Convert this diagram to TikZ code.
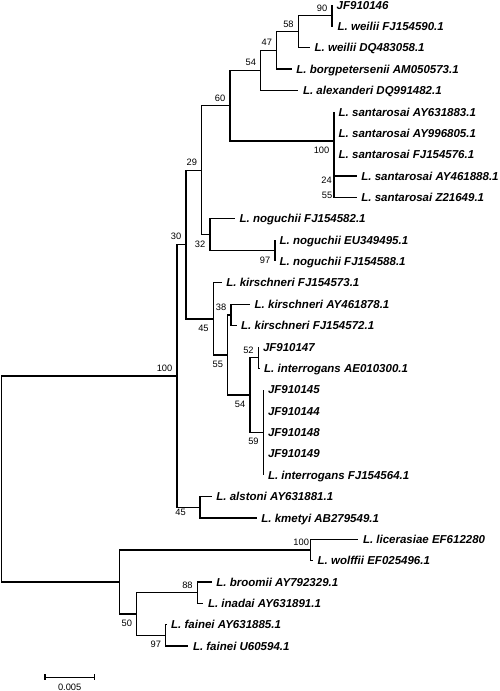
\documentclass[tikz,border=0pt]{standalone}
\usepackage{fontspec}
\setmainfont{Liberation Sans}
\begin{document}
\begin{tikzpicture}[x=1pt,y=-1pt,
  br/.style={line width=1.3pt, line join=miter},
  leaf/.style={anchor=base west, inner sep=0pt, xshift=4.5pt, yshift=-4.1pt,
    font=\fontsize{11.5}{13}\selectfont\bfseries\itshape},
  bsa/.style={anchor=base east, inner sep=0pt, xshift=-4.5pt, yshift=4.6pt,
    font=\fontsize{9.3}{10}\selectfont},
  bsb/.style={anchor=base east, inner sep=0pt, xshift=-4.5pt, yshift=-12.4pt,
    font=\fontsize{9.3}{10}\selectfont},
  bsf/.style={anchor=base east, inner sep=0pt, font=\fontsize{9.3}{10}\selectfont}]
\useasboundingbox (0,0) rectangle (500,691);
% internal nodes
\coordinate (root) at (1.5,479);
\coordinate (U100) at (177,375.9);
\coordinate (L) at (119.3,582);
\coordinate (n30) at (186,244.5);
\coordinate (n45a) at (200,507.2);
\coordinate (n29) at (201.7,170.2);
\coordinate (n45k) at (213.3,318.9);
\coordinate (n60) at (230,105.7);
\coordinate (n32) at (210,234.7);
\coordinate (n54) at (260.7,70.45);
\coordinate (nS) at (334,141);
\coordinate (n47) at (276.7,50.4);
\coordinate (n58) at (298.3,31.7);
\coordinate (n90) at (332,15.7);
\coordinate (n97) at (275,250.75);
\coordinate (n55) at (227.7,354.95);
\coordinate (n38) at (231,314.9);
\coordinate (n54b) at (250,395);
\coordinate (n52) at (258.3,357.6);
\coordinate (n59) at (263.3,432.4);
\coordinate (nLW) at (310.7,549.9);
\coordinate (n50) at (136.7,614);
\coordinate (n88) at (197.3,592.65);
\coordinate (n97b) at (165.7,635.4);
% tips
\coordinate (t1) at (332,5.0);
\coordinate (t2) at (333,26.4);
\coordinate (t3) at (310,47.7);
\coordinate (t4) at (291.7,69.1);
\coordinate (t5) at (298.3,90.5);
\coordinate (t6) at (334,111.9);
\coordinate (t7) at (334,133.2);
\coordinate (t8) at (334,154.6);
\coordinate (t9) at (356.7,176.0);
\coordinate (t10) at (356.7,197.3);
\coordinate (t11) at (235,218.7);
\coordinate (t12) at (275,240.1);
\coordinate (t13) at (275,261.4);
\coordinate (t14) at (221.7,282.8);
\coordinate (t15) at (250,304.2);
\coordinate (t16) at (236.5,325.6);
\coordinate (t17) at (258.3,346.9);
\coordinate (t18) at (259.5,368.3);
\coordinate (t19) at (263.3,389.7);
\coordinate (t20) at (263.3,411.0);
\coordinate (t21) at (263.3,432.4);
\coordinate (t22) at (263.3,453.8);
\coordinate (t23) at (263.3,475.1);
\coordinate (t24) at (211.7,496.5);
\coordinate (t25) at (256.7,517.9);
\coordinate (t26) at (358.3,539.2);
\coordinate (t27) at (313,560.6);
\coordinate (t28) at (211.7,582.0);
\coordinate (t29) at (203.3,603.3);
\coordinate (t30) at (166.5,624.7);
\coordinate (t31) at (188.3,646.1);
% leaf labels
\node[leaf] (l1) at (t1) {JF910146};
\node[leaf] (l2) at (t2) {L. weilii FJ154590.1};
\node[leaf] (l3) at (t3) {L. weilii DQ483058.1};
\node[leaf] (l4) at (t4) {L. borgpetersenii AM050573.1};
\node[leaf] (l5) at (t5) {L. alexanderi DQ991482.1};
\node[leaf] (l6) at (t6) {L. santarosai AY631883.1};
\node[leaf] (l7) at (t7) {L. santarosai AY996805.1};
\node[leaf] (l8) at (t8) {L. santarosai FJ154576.1};
\node[leaf] (l9) at (t9) {L. santarosai AY461888.1};
\node[leaf] (l10) at (t10) {L. santarosai Z21649.1};
\node[leaf] (l11) at (t11) {L. noguchii FJ154582.1};
\node[leaf] (l12) at (t12) {L. noguchii EU349495.1};
\node[leaf] (l13) at (t13) {L. noguchii FJ154588.1};
\node[leaf] (l14) at (t14) {L. kirschneri FJ154573.1};
\node[leaf] (l15) at (t15) {L. kirschneri AY461878.1};
\node[leaf] (l16) at (t16) {L. kirschneri FJ154572.1};
\node[leaf] (l17) at (t17) {JF910147};
\node[leaf] (l18) at (t18) {L. interrogans AE010300.1};
\node[leaf] (l19) at (t19) {JF910145};
\node[leaf] (l20) at (t20) {JF910144};
\node[leaf] (l21) at (t21) {JF910148};
\node[leaf] (l22) at (t22) {JF910149};
\node[leaf] (l23) at (t23) {L. interrogans FJ154564.1};
\node[leaf] (l24) at (t24) {L. alstoni AY631881.1};
\node[leaf] (l25) at (t25) {L. kmetyi AB279549.1};
\node[leaf] (l26) at (t26) {L. licerasiae EF612280};
\node[leaf] (l27) at (t27) {L. wolffii EF025496.1};
\node[leaf] (l28) at (t28) {L. broomii AY792329.1};
\node[leaf] (l29) at (t29) {L. inadai AY631891.1};
\node[leaf] (l30) at (t30) {L. fainei AY631885.1};
\node[leaf] (l31) at (t31) {L. fainei U60594.1};
% branches
\draw[br] (root) |- (U100); \draw[br] (root) |- (L);
\draw[br] (U100) |- (n30); \draw[br] (U100) |- (n45a);
\draw[br] (n30) |- (n29); \draw[br] (n30) |- (n45k);
\draw[br] (n29) |- (n60); \draw[br] (n29) |- (n32);
\draw[br] (n60) |- (n54); \draw[br] (n60) |- (nS);
\draw[br] (n54) |- (n47); \draw[br] (n54) |- (t5);
\draw[br] (n47) |- (n58); \draw[br] (n47) |- (t4);
\draw[br] (n58) |- (n90); \draw[br] (n58) |- (t3);
\draw[br] (n90) |- (t1); \draw[br] (n90) |- (t2);
\foreach \t in {t6,t7,t8,t9,t10} \draw[br] (nS) |- (\t);
\draw[br] (n32) |- (t11); \draw[br] (n32) |- (n97);
\draw[br] (n97) |- (t12); \draw[br] (n97) |- (t13);
\draw[br] (n45k) |- (t14); \draw[br] (n45k) |- (n55);
\draw[br] (n55) |- (n38); \draw[br] (n55) |- (n54b);
\draw[br] (n38) |- (t15); \draw[br] (n38) |- (t16);
\draw[br] (n54b) |- (n52); \draw[br] (n54b) |- (n59);
\draw[br] (n52) |- (t17); \draw[br] (n52) |- (t18);
\foreach \t in {t19,t20,t21,t22,t23} \draw[br] (n59) |- (\t);
\draw[br] (n45a) |- (t24); \draw[br] (n45a) |- (t25);
\draw[br] (L) |- (nLW); \draw[br] (L) |- (n50);
\draw[br] (nLW) |- (t26); \draw[br] (nLW) |- (t27);
\draw[br] (n50) |- (n88); \draw[br] (n50) |- (n97b);
\draw[br] (n88) |- (t28); \draw[br] (n88) |- (t29);
\draw[br] (n97b) |- (t30); \draw[br] (n97b) |- (t31);
% bootstrap values
\node[bsa] (bU100) at (U100) {100};
\node[bsa] (b30) at (n30) {30};
\node[bsa] (b29) at (n29) {29};
\node[bsa] (b60) at (n60) {60};
\node[bsa] (b54) at (n54) {54};
\node[bsa] (b47) at (n47) {47};
\node[bsa] (b58) at (n58) {58};
\node[bsa] (b90) at (n90) {90};
\node[bsa] (b38) at (n38) {38};
\node[bsa] (b52) at (n52) {52};
\node[bsa, xshift=3pt] (bLW) at (nLW) {100};
\node[bsa] (b88) at (n88) {88};
\node[bsb] (b32) at (n32) {32};
\node[bsb] (b97) at (n97) {97};
\node[bsb] (b45k) at (n45k) {45};
\node[bsb] (b55) at (n55) {55};
\node[bsb] (b54b) at (n54b) {54};
\node[bsb] (b59) at (n59) {59};
\node[bsb] (bS) at (nS) {100};
\node[bsf] (b45a) at (186,515.8) {45};
\node[bsb] (b50) at (n50) {50};
\node[bsb] (b97b) at (n97b) {97};
\node[bsf] (b24) at (332,183.4) {24};
\node[bsf] (b55s) at (332.5,198.4) {55};
% scale bar
\coordinate (sb1) at (45,677.3);
\coordinate (sb2) at (94.3,677.3);
\draw[line width=1.1pt] (sb1) -- (sb2);
\draw[line width=1.1pt] ([yshift=3pt]sb1) -- ([yshift=-3pt]sb1);
\draw[line width=1.1pt] ([yshift=3pt]sb2) -- ([yshift=-3pt]sb2);
\node[anchor=base, inner sep=0pt, font=\fontsize{9.3}{10}\selectfont] (sbl) at (69.7,690.5) {0.005};
\end{tikzpicture}
\end{document}
